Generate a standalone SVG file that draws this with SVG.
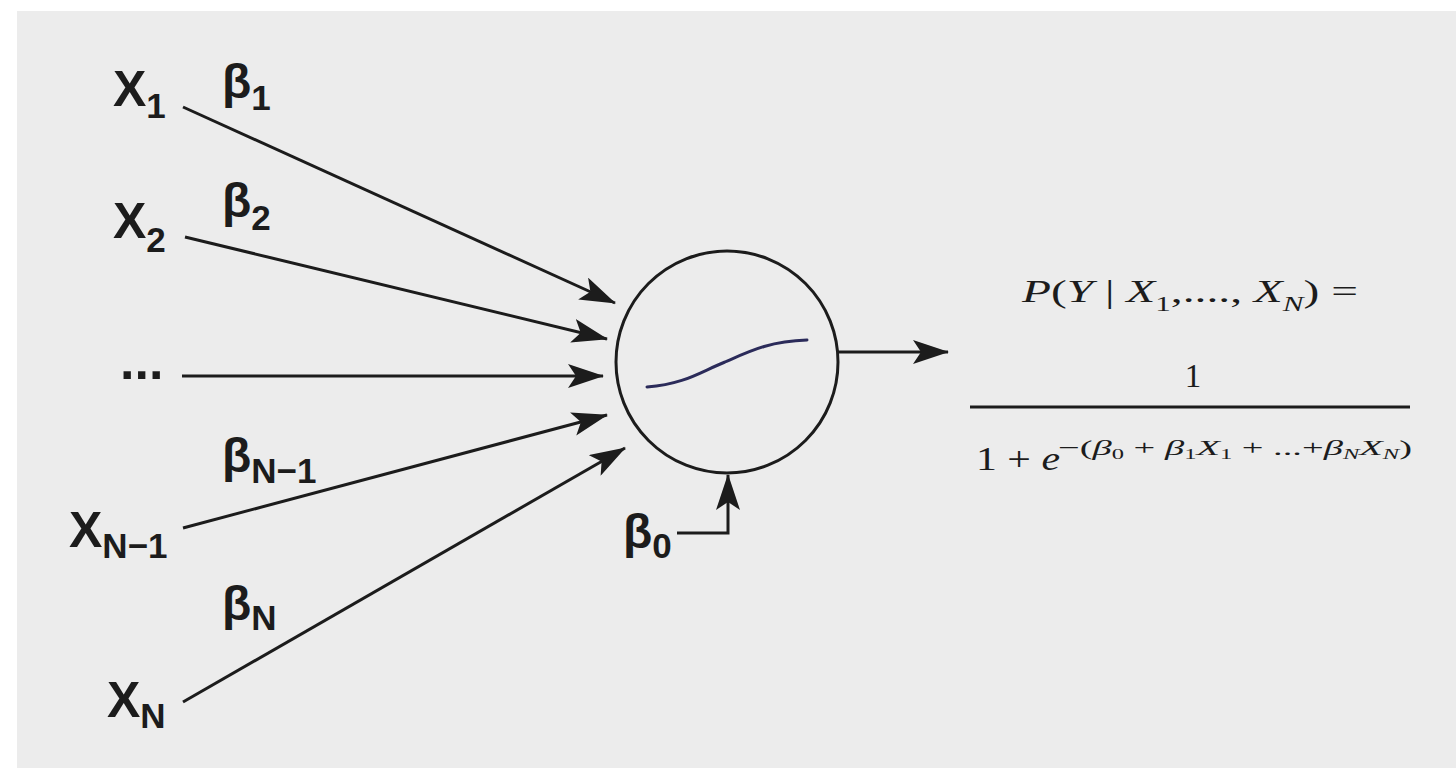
<svg xmlns="http://www.w3.org/2000/svg" width="1456" height="778" viewBox="0 0 1456 778">
<style>
.lbl{font-family:"Liberation Sans",Arial,sans-serif;font-weight:bold;fill:#1c1c1c}
.sub{font-size:35px}
.fx{font-family:"Liberation Serif","Times New Roman",serif;fill:#1c1c1c}
.it{font-style:italic}
.edge{stroke:#1c1c1c;stroke-width:3;fill:none}
</style>
<defs>
<marker id="ah" viewBox="0 0 36 24" refX="35" refY="12" markerWidth="36" markerHeight="24" orient="auto" markerUnits="userSpaceOnUse">
<path d="M0,0 L36,12 L0,24 L8,12 Z" fill="#1c1c1c"/>
</marker>
</defs>
<rect x="0" y="0" width="1456" height="778" fill="#ffffff"/>
<rect x="17" y="11" width="1439" height="757" fill="#ececec"/>

<g id="connectors">
<line class="edge" x1="183" y1="107" x2="615" y2="303" marker-end="url(#ah)"/>
<line class="edge" x1="185" y1="237" x2="607" y2="339" marker-end="url(#ah)"/>
<line class="edge" x1="182" y1="376" x2="603" y2="376" marker-end="url(#ah)"/>
<line class="edge" x1="183" y1="528" x2="607" y2="415" marker-end="url(#ah)"/>
<line class="edge" x1="183" y1="702" x2="625" y2="448" marker-end="url(#ah)"/>
<line class="edge" x1="838" y1="352" x2="948" y2="352" marker-end="url(#ah)"/>
<path class="edge" d="M677,533 H728 V475" marker-end="url(#ah)"/>
</g>

<g id="node-x1"><text class="lbl" x="113" y="106" font-size="50">X<tspan class="sub" dy="12">1</tspan></text></g>
<g id="node-x2"><text class="lbl" x="113" y="238" font-size="50">X<tspan class="sub" dy="14">2</tspan></text></g>
<g id="node-dots"><text class="lbl" x="120" y="379" font-size="52">...</text></g>
<g id="node-xn1"><text class="lbl" x="69" y="547" font-size="50">X<tspan class="sub" dy="11">N−1</tspan></text></g>
<g id="node-xn"><text class="lbl" x="107" y="717" font-size="50">X<tspan class="sub" dy="11">N</tspan></text></g>

<g id="weights">
<text class="lbl" x="222" y="98" font-size="48">β<tspan class="sub" dy="12">1</tspan></text>
<text class="lbl" x="222" y="217" font-size="48">β<tspan class="sub" dy="13">2</tspan></text>
<text class="lbl" x="222" y="472" font-size="48">β<tspan class="sub" dy="11">N−1</tspan></text>
<text class="lbl" x="222" y="620" font-size="48">β<tspan class="sub" dy="10">N</tspan></text>
<text class="lbl" x="623" y="548" font-size="48">β<tspan class="sub" dy="10">0</tspan></text>
</g>

<g id="neuron">
<circle cx="727" cy="362" r="111" fill="none" stroke="#1c1c1c" stroke-width="3"/>
<path d="M647,387 C685,384 700,372 725,362 C750,351 770,341 807,340" fill="none" stroke="#2b2b5a" stroke-width="3" stroke-linecap="round"/>
</g>

<g id="formula">
<text class="fx" x="1022" y="302" font-size="32" textLength="336" lengthAdjust="spacingAndGlyphs"><tspan class="it">P</tspan>(<tspan class="it">Y</tspan> | <tspan class="it">X</tspan><tspan font-size="21" dy="9">1</tspan><tspan dy="-9">,...., </tspan><tspan class="it">X</tspan><tspan class="it" font-size="21" dy="9">N</tspan><tspan dy="-9">) =</tspan></text>
<text class="fx" x="1193" y="387" font-size="33" text-anchor="middle">1</text>
<line x1="970" y1="407" x2="1410" y2="407" stroke="#1c1c1c" stroke-width="3"/>
<text class="fx" x="976" y="470" font-size="33" textLength="84" lengthAdjust="spacingAndGlyphs">1 + <tspan class="it">e</tspan></text>
<text class="fx" x="1058" y="455" font-size="22" textLength="354" lengthAdjust="spacingAndGlyphs">−(<tspan class="it">β</tspan><tspan font-size="14" dy="4">0</tspan><tspan dy="-4"> + </tspan><tspan class="it">β</tspan><tspan font-size="14" dy="4">1</tspan><tspan class="it" dy="-4">X</tspan><tspan font-size="14" dy="4">1</tspan><tspan dy="-4"> + ...+</tspan><tspan class="it">β</tspan><tspan class="it" font-size="14" dy="4">N</tspan><tspan class="it" dy="-4">X</tspan><tspan class="it" font-size="14" dy="4">N</tspan><tspan dy="-4">)</tspan></text>
</g>
</svg>
